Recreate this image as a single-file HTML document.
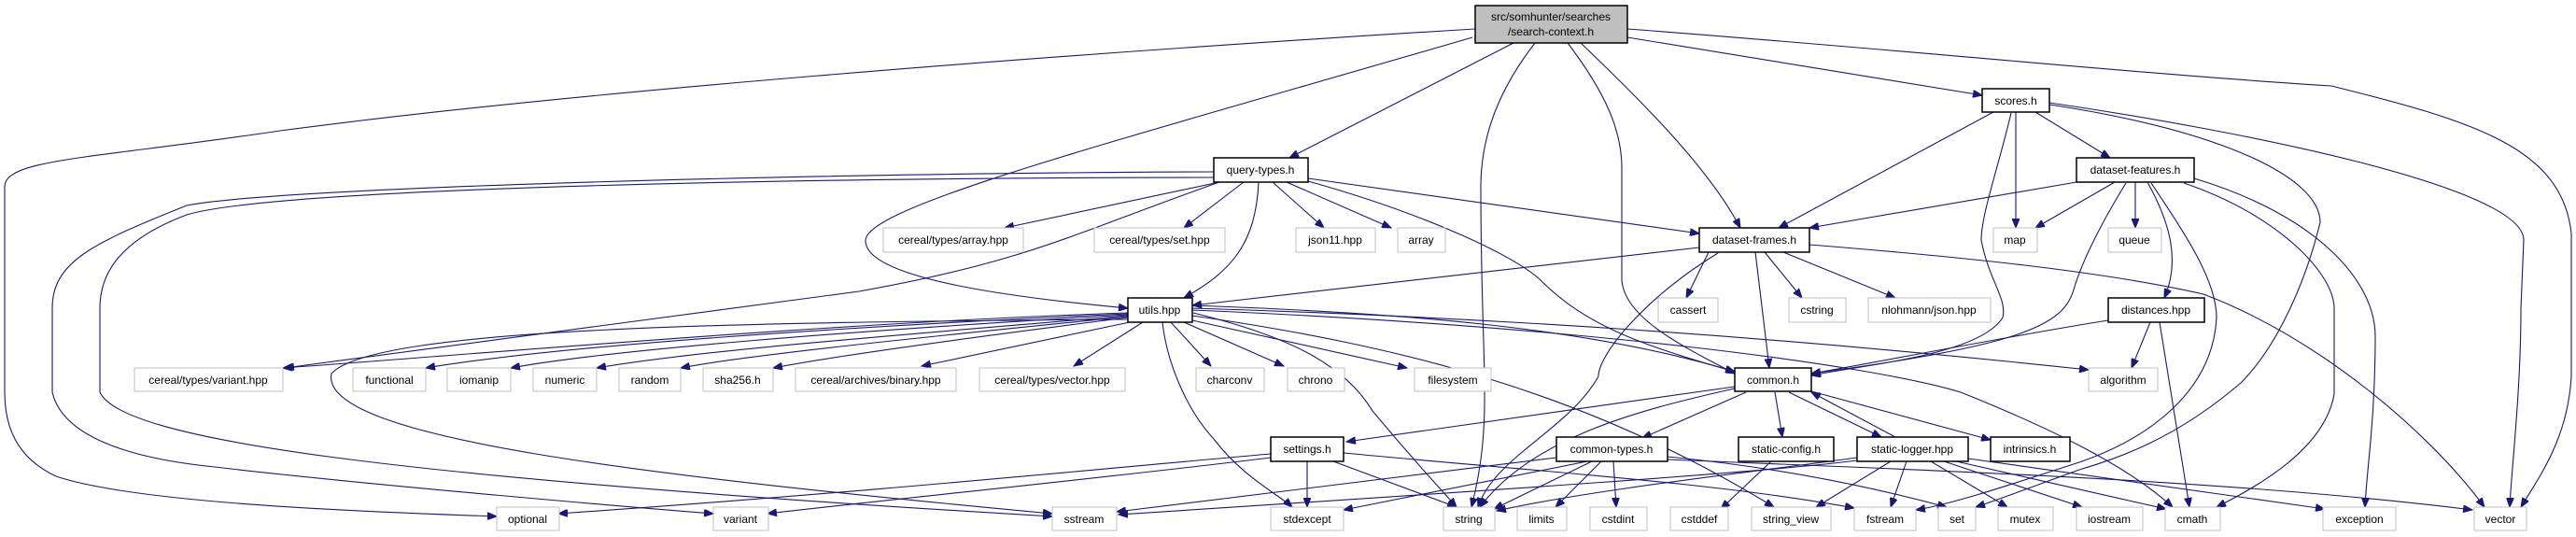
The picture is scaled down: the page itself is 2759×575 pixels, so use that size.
<!DOCTYPE html>
<html><head><meta charset="utf-8"><style>
html,body{margin:0;padding:0;background:#fff}
svg{display:block}
text{font-family:"Liberation Sans Narrow","Liberation Sans",sans-serif;font-size:12px;fill:#000}
.e{fill:none;stroke:#191970;stroke-width:1.1;marker-end:url(#a)}
.d{fill:#fff;stroke:#000;stroke-width:1.5}
.x{fill:#fff;stroke:#bfbfbf;stroke-width:1}
</style></head><body>
<svg width="2759" height="575" viewBox="0 0 2759 575" xmlns="http://www.w3.org/2000/svg">
<defs><marker id="a" markerWidth="11" markerHeight="8" refX="10" refY="4" orient="auto" markerUnits="userSpaceOnUse"><path d="M0,0 L10,4 L0,8 z" fill="#191970" stroke="#191970"/></marker></defs>
<g>
<path class="e" d="M1580,31 C1100,60 600,100 300,140 C100,170 5,170 5,200 L5,420 C5,480 40,500 60,510 C150,540 400,548 532,553"/>
<path class="e" d="M1577,40 C1200,150 930,220 927,257 C925,300 1100,320 1208,330"/>
<path class="e" d="M1621,46 L1381,169"/>
<path class="e" d="M1693,46 C1760,110 1830,180 1864,244"/>
<path class="e" d="M1644,46 C1610,90 1586,140 1586,200 C1586,400 1600,450 1576,543"/>
<path class="e" d="M1679,46 C1720,100 1737,140 1737,180 L1737,300 C1740,340 1800,370 1858,400"/>
<path class="e" d="M1743,40 L2123,102"/>
<path class="e" d="M1743,31 C2000,50 2300,80 2497,92 C2650,130 2744,158 2754,250 L2754,403 C2750,470 2720,510 2700,543"/>
<path class="e" d="M1306,195 L1076,244"/>
<path class="e" d="M1332,195 L1268,244"/>
<path class="e" d="M1363,195 L1418,244"/>
<path class="e" d="M1378,195 L1490,244"/>
<path class="e" d="M1401,191 L1820,250"/>
<path class="e" d="M1348,195 C1345,260 1320,290 1268,319"/>
<path class="e" d="M1300,184 C900,185 300,200 200,220 C100,260 56,280 56,330 L56,420 C70,480 180,495 230,500 C400,520 700,545 764,550"/>
<path class="e" d="M1300,190 C900,190 300,200 200,230 C120,260 107,300 107,330 L107,420 C130,470 400,510 1127,553"/>
<path class="e" d="M1306,195 C1150,250 1100,280 920,312 L305,394"/>
<path class="e" d="M1401,194 C1530,230 1624,275 1650,300 C1700,350 1760,370 1858,398"/>
<path class="e" d="M1208,335 C900,345 500,380 303,394"/>
<path class="e" d="M1208,336 C900,350 600,370 456,394"/>
<path class="e" d="M1208,337 C900,355 650,375 547,394"/>
<path class="e" d="M1208,338 C950,360 750,375 639,394"/>
<path class="e" d="M1208,339 C1000,360 800,380 729,394"/>
<path class="e" d="M1208,340 C1050,360 900,380 828,394"/>
<path class="e" d="M1210,345 L987,392"/>
<path class="e" d="M1224,345 L1150,392"/>
<path class="e" d="M1254,345 L1297,392"/>
<path class="e" d="M1268,345 L1375,392"/>
<path class="e" d="M1277,343 L1507,394"/>
<path class="e" d="M1208,342 C800,345 400,350 355,400 C340,470 700,510 1127,550"/>
<path class="e" d="M1245,345 C1250,390 1272,440 1300,470 C1330,510 1370,530 1384,543"/>
<path class="e" d="M1278,335 C1380,360 1440,390 1470,440 C1520,500 1540,520 1560,543"/>
<path class="e" d="M1277,327 C1500,335 1700,350 1858,398"/>
<path class="e" d="M1277,330 C1600,340 1900,360 2237,396"/>
<path class="e" d="M1277,332 C1700,350 2000,390 2100,420 C2200,460 2280,500 2327,543"/>
<path class="e" d="M1277,338 C1500,370 1700,420 1900,543"/>
<path class="e" d="M1820,265 L1277,327"/>
<path class="e" d="M1830,270 L1806,319"/>
<path class="e" d="M1890,270 L1930,319"/>
<path class="e" d="M1910,270 L2030,319"/>
<path class="e" d="M1880,270 L1895,394"/>
<path class="e" d="M1840,271 C1760,320 1712,380 1712,403 C1680,460 1600,490 1583,543"/>
<path class="e" d="M1938,262 C2100,275 2250,290 2360,315 C2480,360 2600,460 2661,543"/>
<path class="e" d="M2135,120 L1905,244"/>
<path class="e" d="M2159,120 L2159,244"/>
<path class="e" d="M2180,120 L2260,169"/>
<path class="e" d="M2154,121 C2140,180 2122,230 2122,257 C2130,300 2150,320 2145,340 C2120,380 2000,390 1940,402"/>
<path class="e" d="M2195,112 C2380,140 2485,190 2485,238 C2470,300 2440,370 2400,410 C2330,470 2270,490 2227,503 C2180,520 2140,535 2116,543"/>
<path class="e" d="M2195,110 C2400,140 2703,200 2703,257 L2700,330 C2700,420 2690,500 2688,543"/>
<path class="e" d="M2224,195 L1938,244"/>
<path class="e" d="M2265,195 L2180,244"/>
<path class="e" d="M2287,195 L2287,244"/>
<path class="e" d="M2277,196 C2250,240 2230,280 2221,310 C2210,350 2160,370 1940,400"/>
<path class="e" d="M2300,195 C2325,240 2335,280 2318,319"/>
<path class="e" d="M2304,196 C2340,250 2374,300 2374,340 C2370,420 2300,470 2227,495 C2150,520 2090,540 2052,546"/>
<path class="e" d="M2339,196 C2440,230 2500,293 2500,330 L2500,422 C2490,480 2420,520 2374,543"/>
<path class="e" d="M2350,191 C2480,230 2544,300 2544,360 C2544,450 2535,500 2533,543"/>
<path class="e" d="M2258,343 C2150,360 2000,390 1940,400"/>
<path class="e" d="M2303,345 L2283,394"/>
<path class="e" d="M2313,345 L2345,543"/>
<path class="e" d="M1858,414 L1442,473"/>
<path class="e" d="M1870,420 L1759,469"/>
<path class="e" d="M1901,420 L1909,468"/>
<path class="e" d="M1916,420 L2015,468"/>
<path class="e" d="M1940,419 L2132,471"/>
<path class="e" d="M1858,416 C1750,440 1640,470 1585,543"/>
<path class="e" d="M2030,468 L1940,420"/>
<path class="e" d="M1361,486 C1200,500 920,528 598,550"/>
<path class="e" d="M1361,490 C1200,510 950,535 822,550"/>
<path class="e" d="M1400,494 L1400,543"/>
<path class="e" d="M1428,494 L1560,543"/>
<path class="e" d="M1439,485 C1650,505 1840,517 1986,544"/>
<path class="e" d="M1667,490 L1196,548"/>
<path class="e" d="M1700,494 L1439,546"/>
<path class="e" d="M1705,494 L1600,545"/>
<path class="e" d="M1715,494 L1666,543"/>
<path class="e" d="M1728,494 L1731,543"/>
<path class="e" d="M1786,489 C1900,500 2000,520 2085,543"/>
<path class="e" d="M1786,492 C2100,505 2400,515 2648,546"/>
<path class="e" d="M1897,494 L1843,545"/>
<path class="e" d="M1989,493 C1900,505 1600,525 1198,551"/>
<path class="e" d="M1989,490 C1880,505 1700,525 1603,547"/>
<path class="e" d="M2025,494 L1945,543"/>
<path class="e" d="M2042,494 L2025,543"/>
<path class="e" d="M2068,494 L2150,543"/>
<path class="e" d="M2082,494 L2230,543"/>
<path class="e" d="M2095,494 L2320,545"/>
<path class="e" d="M2108,491 L2490,545"/>
</g>
<g>
<rect x="1580" y="6" width="163" height="40" fill="#bfbfbf" stroke="#000" stroke-width="1.5"/>
<text x="1661" y="22" text-anchor="middle">src/somhunter/searches</text>
<text x="1661" y="38" text-anchor="middle">/search-context.h</text>
<rect class="d" x="1300" y="169" width="101" height="26"/><text x="1350" y="186" text-anchor="middle">query-types.h</text>
<rect class="d" x="2123" y="95" width="72" height="25"/><text x="2159" y="112" text-anchor="middle">scores.h</text>
<rect class="d" x="2224" y="169" width="126" height="26"/><text x="2287" y="186" text-anchor="middle">dataset-features.h</text>
<rect class="d" x="1820" y="244" width="118" height="26"/><text x="1879" y="261" text-anchor="middle">dataset-frames.h</text>
<rect class="d" x="1208" y="319" width="69" height="26"/><text x="1242" y="336" text-anchor="middle">utils.hpp</text>
<rect class="d" x="2258" y="319" width="103" height="26"/><text x="2309" y="336" text-anchor="middle">distances.hpp</text>
<rect class="d" x="1858" y="394" width="82" height="25"/><text x="1899" y="411" text-anchor="middle">common.h</text>
<rect class="d" x="1361" y="468" width="78" height="26"/><text x="1400" y="485" text-anchor="middle">settings.h</text>
<rect class="d" x="1667" y="468" width="119" height="26"/><text x="1726" y="485" text-anchor="middle">common-types.h</text>
<rect class="d" x="1862" y="468" width="102" height="26"/><text x="1913" y="485" text-anchor="middle">static-config.h</text>
<rect class="d" x="1989" y="468" width="119" height="26"/><text x="2048" y="485" text-anchor="middle">static-logger.hpp</text>
<rect class="d" x="2132" y="468" width="85" height="26"/><text x="2174" y="485" text-anchor="middle">intrinsics.h</text>
<rect class="x" x="946" y="244" width="150" height="26"/><text x="1021" y="261" text-anchor="middle">cereal/types/array.hpp</text>
<rect class="x" x="1172" y="244" width="140" height="26"/><text x="1242" y="261" text-anchor="middle">cereal/types/set.hpp</text>
<rect class="x" x="1388" y="244" width="85" height="26"/><text x="1430" y="261" text-anchor="middle">json11.hpp</text>
<rect class="x" x="1497" y="244" width="51" height="26"/><text x="1522" y="261" text-anchor="middle">array</text>
<rect class="x" x="2135" y="244" width="47" height="26"/><text x="2158" y="261" text-anchor="middle">map</text>
<rect class="x" x="2258" y="244" width="57" height="26"/><text x="2286" y="261" text-anchor="middle">queue</text>
<rect class="x" x="1776" y="319" width="64" height="26"/><text x="1808" y="336" text-anchor="middle">cassert</text>
<rect class="x" x="1916" y="319" width="61" height="26"/><text x="1946" y="336" text-anchor="middle">cstring</text>
<rect class="x" x="2001" y="319" width="131" height="26"/><text x="2066" y="336" text-anchor="middle">nlohmann/json.hpp</text>
<rect class="x" x="144" y="394" width="159" height="25"/><text x="223" y="411" text-anchor="middle">cereal/types/variant.hpp</text>
<rect class="x" x="378" y="394" width="78" height="25"/><text x="417" y="411" text-anchor="middle">functional</text>
<rect class="x" x="479" y="394" width="68" height="25"/><text x="513" y="411" text-anchor="middle">iomanip</text>
<rect class="x" x="571" y="394" width="68" height="25"/><text x="605" y="411" text-anchor="middle">numeric</text>
<rect class="x" x="663" y="394" width="66" height="25"/><text x="696" y="411" text-anchor="middle">random</text>
<rect class="x" x="753" y="394" width="75" height="25"/><text x="790" y="411" text-anchor="middle">sha256.h</text>
<rect class="x" x="852" y="394" width="172" height="25"/><text x="938" y="411" text-anchor="middle">cereal/archives/binary.hpp</text>
<rect class="x" x="1049" y="394" width="156" height="25"/><text x="1127" y="411" text-anchor="middle">cereal/types/vector.hpp</text>
<rect class="x" x="1281" y="394" width="73" height="25"/><text x="1317" y="411" text-anchor="middle">charconv</text>
<rect class="x" x="1379" y="394" width="61" height="25"/><text x="1409" y="411" text-anchor="middle">chrono</text>
<rect class="x" x="1515" y="394" width="82" height="25"/><text x="1556" y="411" text-anchor="middle">filesystem</text>
<rect class="x" x="2237" y="394" width="74" height="25"/><text x="2274" y="411" text-anchor="middle">algorithm</text>
<rect class="x" x="532" y="543" width="67" height="25"/><text x="565" y="560" text-anchor="middle">optional</text>
<rect class="x" x="764" y="543" width="59" height="25"/><text x="793" y="560" text-anchor="middle">variant</text>
<rect class="x" x="1127" y="543" width="69" height="25"/><text x="1161" y="560" text-anchor="middle">sstream</text>
<rect class="x" x="1361" y="543" width="78" height="25"/><text x="1400" y="560" text-anchor="middle">stdexcept</text>
<rect class="x" x="1546" y="543" width="55" height="25"/><text x="1573" y="560" text-anchor="middle">string</text>
<rect class="x" x="1625" y="543" width="53" height="25"/><text x="1651" y="560" text-anchor="middle">limits</text>
<rect class="x" x="1703" y="543" width="61" height="25"/><text x="1733" y="560" text-anchor="middle">cstdint</text>
<rect class="x" x="1789" y="543" width="62" height="25"/><text x="1820" y="560" text-anchor="middle">cstddef</text>
<rect class="x" x="1876" y="543" width="85" height="25"/><text x="1918" y="560" text-anchor="middle">string_view</text>
<rect class="x" x="1986" y="543" width="66" height="25"/><text x="2019" y="560" text-anchor="middle">fstream</text>
<rect class="x" x="2076" y="543" width="40" height="25"/><text x="2096" y="560" text-anchor="middle">set</text>
<rect class="x" x="2140" y="543" width="59" height="25"/><text x="2169" y="560" text-anchor="middle">mutex</text>
<rect class="x" x="2224" y="543" width="71" height="25"/><text x="2259" y="560" text-anchor="middle">iostream</text>
<rect class="x" x="2319" y="543" width="59" height="25"/><text x="2348" y="560" text-anchor="middle">cmath</text>
<rect class="x" x="2488" y="543" width="78" height="25"/><text x="2527" y="560" text-anchor="middle">exception</text>
<rect class="x" x="2650" y="543" width="56" height="25"/><text x="2678" y="560" text-anchor="middle">vector</text>
</g>
</svg>
</body></html>
